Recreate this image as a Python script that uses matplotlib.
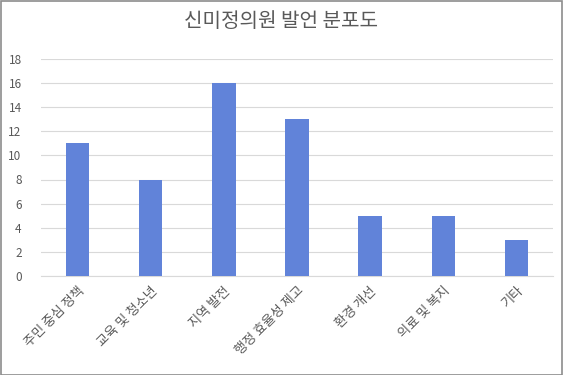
import matplotlib
matplotlib.use("Agg")
import matplotlib.pyplot as plt
from matplotlib.patches import Rectangle

plt.rcParams['font.family'] = ['Noto Sans CJK KR', 'DejaVu Sans']

# Data
categories = ['주민 중심 정책', '교육 및 청소년', '지역 발전', '행정 효율성 제고',
              '환경 개선', '의료 및 복지', '기타']
counts = [11, 8, 16, 13, 5, 5, 3]
title = '신미정의원 발언 분포도'

fig = plt.figure(figsize=(5.63, 3.75), dpi=100)
ax = fig.add_axes([0.073, 0.264, 0.909, 0.579])

ax.bar(range(len(categories)), counts, width=0.32, color='#6183d9', zorder=3)

ax.set_ylim(0, 18)
ax.set_yticks(range(0, 19, 2))
ax.set_xlim(-0.5, len(categories) - 0.5)
ax.set_xticks(range(len(categories)))
ax.set_xticklabels(categories, rotation=45, ha='right', rotation_mode='anchor')

ax.grid(axis='y', color='#d9d9d9', linewidth=0.8, zorder=0)
for side in ['top', 'right', 'left']:
    ax.spines[side].set_visible(False)
ax.spines['bottom'].set_color('#d9d9d9')
ax.tick_params(axis='both', length=0, colors='#595959', labelsize=8.5)
ax.tick_params(axis='x', labelsize=9.5, pad=6)
ax.tick_params(axis='y', pad=14)

fig.suptitle(title, y=0.97, fontsize=14.5, color='#595959')

# outer border
fig.patches.append(Rectangle((0.001, 0.001), 0.997, 0.996, transform=fig.transFigure,
                             fill=False, edgecolor='#8c8c8c', linewidth=1.2))

fig.savefig('out.png', dpi=100)
